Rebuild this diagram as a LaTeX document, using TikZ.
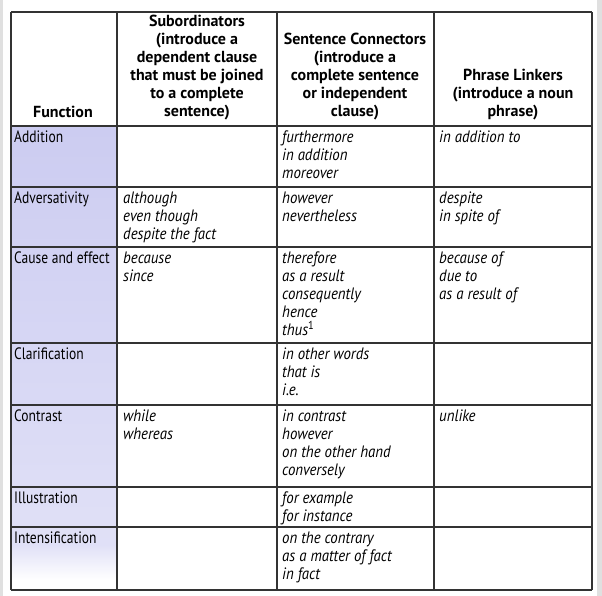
\documentclass[tikz,border=0pt]{standalone}
\usepackage{fontspec}
\setmainfont{PT Sans}
\newfontfamily\headfont{PT Sans}
\newfontfamily\fnfont[FakeStretch=0.82]{PT Sans}
\newfontfamily\cellfont[FakeStretch=0.9]{PT Sans}
\definecolor{lavender}{RGB}{204,204,241}
\tikzset{
  head/.style={anchor=north, align=center, inner sep=0pt,
    font=\headfont\bfseries\fontsize{16}{18}\selectfont},
  fn/.style={anchor=north west, align=left, inner sep=0pt,
    font=\fnfont\fontsize{16.5}{18}\selectfont},
  word/.style={fn, font=\cellfont\itshape\fontsize{16.5}{18}\selectfont},
  rule/.style={line width=1.2pt, draw=black!80}
}
\begin{document}
\begin{tikzpicture}[x=1pt,y=-1pt]
%columns: function | subordinators | connectors | linkers
\newcommand{\cfun}{11}
\newcommand{\csub}{117}
\newcommand{\ccon}{277}
\newcommand{\clink}{434}
\newcommand{\cend}{592}
\newcommand{\pad}{3}
\useasboundingbox (0,0) rectangle (602,596);
\fill[black!12] (0,0) rectangle (3,596);
\fill[black!12] (597,0) rectangle (602,596);
%shaded first column, fading out near the bottom
\shade[top color=lavender, bottom color=lavender!60] (\cfun,126) rectangle (\csub,545);
\shade[top color=lavender!60, bottom color=white] (\cfun,545) rectangle (\csub,580);
\foreach \y in {12,126,187,247,343,405,487,527,590}
  \draw[rule] (\cfun,\y) -- (\cend,\y);
\foreach \x in {\cfun,\csub,\ccon,\clink,\cend}
  \draw[rule] (\x,12) -- (\x,590);
%header
\node[head] (fnhead) at (63,106) {Function};
\node[head] (subhead) at (197,15) {Subordinators\\(introduce a\\dependent clause\\that must be joined\\to a complete\\sentence)};
\node[head] (conhead) at (355,33) {Sentence Connectors\\(introduce a\\complete sentence\\or independent\\clause)};
\node[head] (linkhead) at (513,69) {Phrase Linkers\\(introduce a noun\\phrase)};
%rows
\node[fn] (addition) at (\cfun+\pad,131) {Addition};
\node[word] (addcon) at (\ccon+\pad+2,131) {furthermore\\in addition\\moreover};
\node[word] (addlink) at (\clink+\pad+2,131) {in addition to};
\node[fn] (advers) at (\cfun+\pad,192) {Adversativity};
\node[word] (adversub) at (\csub+\pad+3,192) {although\\even though\\despite the fact};
\node[word] (adverscon) at (\ccon+\pad+2,192) {however\\nevertheless};
\node[word] (adverslink) at (\clink+\pad+2,192) {despite\\in spite of};
\node[fn] (cause) at (\cfun+\pad,252) {Cause and effect};
\node[word] (causesub) at (\csub+\pad+3,252) {because\\since};
\node[word] (causecon) at (\ccon+\pad+2,252) {therefore\\as a result\\consequently\\hence\\thus\textsuperscript{\upshape 1}};
\node[word] (causelink) at (\clink+\pad+2,252) {because of\\due to\\as a result of};
\node[fn] (clarif) at (\cfun+\pad,348) {Clarification};
\node[word] (clarifcon) at (\ccon+\pad+2,348) {in other words\\that is\\i.e.};
\node[fn] (contrast) at (\cfun+\pad,410) {Contrast};
\node[word] (contrastsub) at (\csub+\pad+3,410) {while\\whereas};
\node[word] (contrastcon) at (\ccon+\pad+2,410) {in contrast\\however\\on the other hand\\conversely};
\node[word] (contrastlink) at (\clink+\pad+2,410) {unlike};
\node[fn] (illus) at (\cfun+\pad,492) {Illustration};
\node[word] (illuscon) at (\ccon+\pad+2,492) {for example\\for instance};
\node[fn] (intens) at (\cfun+\pad,532) {Intensification};
\node[word] (intenscon) at (\ccon+\pad+2,532) {on the contrary\\as a matter of fact\\in fact};
\end{tikzpicture}
\end{document}
